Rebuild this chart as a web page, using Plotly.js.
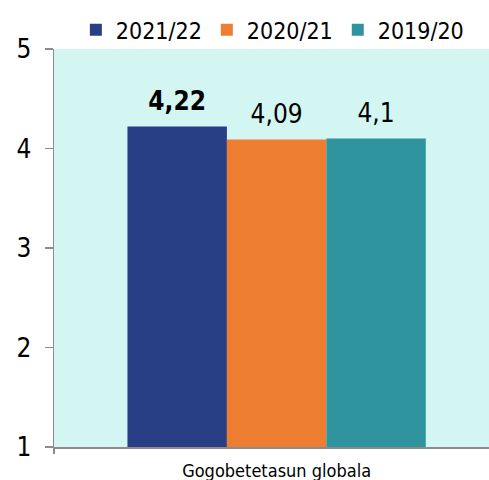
<!DOCTYPE html>
<html>
<head>
<meta charset="utf-8">
<script src="https://cdn.plot.ly/plotly-3.0.1.min.js"></script>
<style>
  html, body { margin: 0; padding: 0; background: #ffffff; }
  #chart { width: 489px; height: 480px; }
</style>
</head>
<body>
<div id="chart"></div>
<script>
const categories = ["Gogobetetasun globala"];
const seriesNames = ["2021/22", "2020/21", "2019/20"];
const seriesValues = [[4.22], [4.09], [4.1]];
const seriesColors = ["#283e85", "#ed7d31", "#30949e"];
const yTicks = [1, 2, 3, 4, 5];

function label(v, bold) {
  const s = String(v).replace(".", ",");
  return bold ? "<b>" + s + "</b>" : s;
}

const font = "DejaVu Sans Condensed, DejaVu Sans, sans-serif";

const bars = seriesNames.map((name, i) => ({
  type: "bar",
  name: name,
  x: categories,
  y: seriesValues[i],
  marker: { color: seriesColors[i] },
  hoverinfo: "skip"
}));

// value labels, grouped like the bars so they sit over each one
const labels = seriesNames.map((name, i) => ({
  type: "scatter",
  mode: "markers+text",
  name: name,
  showlegend: false,
  x: categories,
  y: seriesValues[i],
  text: seriesValues[i].map(v => label(v, i === 0)),
  textposition: "top center",
  cliponaxis: false,
  textfont: { family: font, size: 26, color: "#000000" },
  marker: { size: 14, opacity: 0 },
  hoverinfo: "skip"
}));

Plotly.newPlot("chart", bars.concat(labels), {
  width: 489,
  height: 480,
  barmode: "group",
  bargap: 0.33,
  bargroupgap: 0,
  scattermode: "group",
  scattergap: 0.33,
  separators: ", ",
  paper_bgcolor: "#ffffff",
  plot_bgcolor: "#d3f6f3",
  margin: { l: 54, r: 0, t: 49, b: 33 },
  font: { family: font, color: "#000000" },
  showlegend: true,
  legend: {
    orientation: "h",
    x: 0.502,
    xanchor: "center",
    y: 1.048,
    yanchor: "middle",
    bgcolor: "rgba(0,0,0,0)",
    font: { family: font, size: 23, color: "#000000" },
    itemwidth: 30,
    traceorder: "normal"
  },
  xaxis: {
    range: [-0.5, 0.477],
    showline: true,
    linecolor: "#8c8c8c",
    linewidth: 1.5,
    ticks: "outside",
    tickson: "boundaries",
    ticklen: 5,
    tickcolor: "#8c8c8c",
    tickwidth: 1.5,
    ticklabelstandoff: 7,
    tickfont: { family: font, size: 18, color: "#000000" },
    showgrid: false,
    zeroline: false,
    fixedrange: true
  },
  yaxis: {
    range: [1, 5],
    tickvals: yTicks,
    ticktext: yTicks.map(String),
    showline: true,
    linecolor: "#8c8c8c",
    linewidth: 1.5,
    ticks: "outside",
    ticklen: 8,
    tickcolor: "#8c8c8c",
    tickwidth: 1.5,
    ticklabelstandoff: 8,
    tickfont: { family: font, size: 26, color: "#000000" },
    showgrid: false,
    zeroline: false,
    fixedrange: true
  }
}, {
  displayModeBar: false,
  staticPlot: true
});
</script>
</body>
</html>
